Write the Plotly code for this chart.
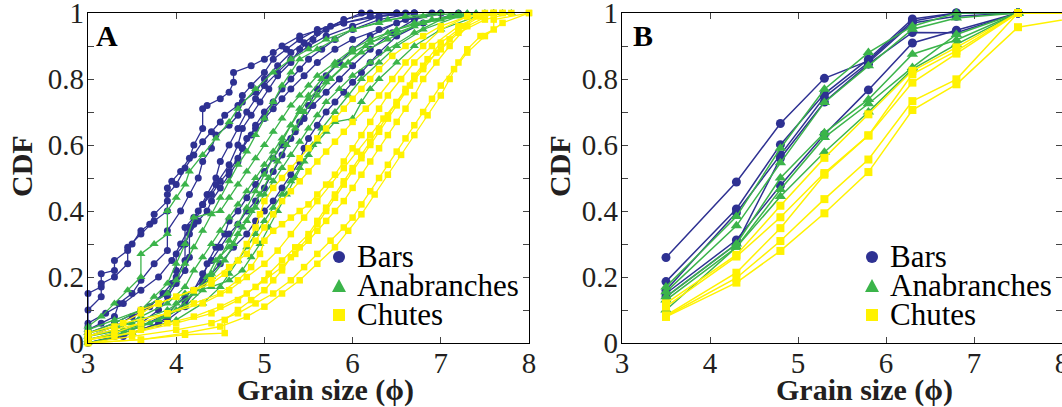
import plotly.graph_objects as go

# ---------------- DATA ----------------
# Panel A: individual sample CDFs, each curve given as (phi, cdf) pairs
BARS_A = [
    [(3.0,.05),(3.0,.15),(3.15,.17),(3.15,.21),(3.3,.22),(3.3,.25),(3.45,.28),(3.5,.30),(3.6,.34),(3.7,.36),
     (3.75,.39),(3.9,.43),(3.9,.47),(3.95,.49),(4.05,.52),(4.15,.56),(4.2,.60),(4.3,.65),(4.3,.71),(4.35,.72),
     (4.5,.74),(4.6,.76),(4.65,.79),(4.65,.82),(4.85,.84),(5.0,.86),(5.1,.88),(5.2,.90),(5.4,.93),(5.75,.96),
     (6.1,1.0),(6.5,1.0)],
    [(3.0,.10),(3.15,.14),(3.15,.18),(3.3,.20),(3.45,.24),(3.45,.29),(3.6,.33),(3.75,.37),(3.9,.40),(3.9,.45),
     (4.0,.48),(4.1,.53),(4.2,.57),(4.3,.61),(4.4,.64),(4.5,.67),(4.55,.69),(4.7,.72),(4.75,.75),(4.85,.78),
     (5.0,.82),(5.1,.86),(5.25,.89),(5.4,.92),(5.6,.95),(5.9,.97),(6.2,.99),(6.6,1.0)],
    [(3.0,.04),(3.15,.06),(3.3,.08),(3.35,.12),(3.5,.15),(3.6,.19),(3.75,.24),(3.9,.28),(3.9,.34),(4.05,.40),
     (4.15,.45),(4.25,.50),(4.3,.55),(4.4,.59),(4.45,.63),(4.6,.66),(4.7,.69),(4.75,.73),(4.9,.76),(5.0,.80),
     (5.15,.84),(5.3,.88),(5.45,.91),(5.6,.94),(5.9,.97),(6.3,.99),(6.7,1.0)],
    [(3.0,.06),(3.2,.09),(3.4,.12),(3.6,.16),(3.8,.20),(3.95,.25),(4.05,.30),(4.15,.35),(4.25,.40),(4.35,.45),
     (4.45,.50),(4.5,.55),(4.6,.60),(4.7,.65),(4.8,.70),(4.9,.74),(5.0,.78),(5.15,.82),(5.3,.86),(5.5,.90),
     (5.7,.93),(6.0,.96),(6.3,.99),(6.7,1.0)],
    [(3.0,.02),(3.3,.05),(3.5,.08),(3.7,.11),(3.85,.15),(3.95,.18),(4.0,.22),(4.0,.27),(4.1,.30),(4.1,.35),
     (4.2,.38),(4.3,.42),(4.4,.45),(4.5,.49),(4.6,.52),(4.7,.56),(4.75,.59),(4.85,.63),(4.9,.66),(5.0,.70),
     (5.1,.73),(5.2,.77),(5.3,.80),(5.4,.83),(5.5,.86),(5.65,.89),(5.8,.92),(6.0,.95),(6.3,.98),(6.7,1.0)],
    [(3.0,.01),(3.3,.03),(3.6,.06),(3.8,.10),(3.9,.14),(4.0,.18),(4.1,.22),(4.15,.26),(4.15,.33),(4.25,.37),
     (4.35,.40),(4.4,.43),(4.5,.47),(4.6,.51),(4.7,.55),(4.75,.59),(4.8,.62),(4.9,.65),(5.0,.68),(5.1,.71),
     (5.2,.74),(5.3,.77),(5.45,.81),(5.6,.85),(5.8,.89),(6.0,.92),(6.3,.95),(6.6,.98),(7.0,1.0)],
    [(3.0,.0),(3.3,.02),(3.6,.05),(3.9,.09),(4.1,.14),(4.3,.19),(4.35,.24),(4.45,.29),(4.55,.33),(4.6,.37),
     (4.7,.40),(4.8,.44),(4.9,.48),(5.0,.52),(5.1,.56),(5.2,.60),(5.35,.64),(5.45,.68),(5.55,.72),(5.7,.76),
     (5.85,.80),(6.0,.84),(6.2,.89),(6.45,.94),(6.7,.98),(7.0,1.0)],
    [(3.0,.0),(3.5,.03),(3.9,.07),(4.1,.11),(4.2,.16),(4.3,.21),(4.4,.25),(4.5,.29),(4.6,.33),(4.7,.36),
     (4.8,.40),(4.9,.43),(5.0,.47),(5.1,.52),(5.2,.57),(5.3,.62),(5.4,.67),(5.5,.72),(5.6,.77),(5.7,.81),
     (5.85,.85),(6.0,.89),(6.2,.93),(6.5,.97),(6.9,1.0)],
    [(3.0,.0),(3.4,.02),(3.8,.06),(4.1,.12),(4.3,.18),(4.5,.24),(4.65,.29),(4.8,.33),(4.9,.37),(5.0,.40),
     (5.1,.43),(5.2,.47),(5.3,.51),(5.4,.55),(5.45,.59),(5.5,.62),(5.6,.66),(5.7,.70),(5.8,.73),(5.9,.76),
     (6.0,.79),(6.1,.82),(6.2,.85),(6.3,.88),(6.5,.93),(6.8,.97),(7.2,1.0)],
    [(3.0,.03),(3.3,.06),(3.6,.10),(3.9,.15),(4.0,.20),(4.1,.25),(4.1,.30),(4.2,.36),(4.3,.42),(4.45,.48),
     (4.6,.54),(4.7,.60),(4.75,.65),(4.85,.69),(4.95,.73),(5.05,.77),(5.15,.81),(5.3,.85),(5.4,.89),(5.55,.92),
     (5.7,.95),(5.9,.98),(6.2,1.0),(6.5,1.0)],
]
ANABRANCHES_A = [
    [(3.0,.05),(3.15,.08),(3.3,.12),(3.45,.16),(3.6,.20),(3.6,.27),(3.75,.30),(3.9,.33),(3.9,.40),(4.0,.44),
     (4.1,.48),(4.15,.52),(4.3,.57),(4.45,.62),(4.6,.67),(4.7,.71),(4.9,.77),(5.1,.82),(5.3,.86),(5.5,.89),
     (5.7,.92),(6.0,.95),(6.4,.98),(6.8,.99),(7.2,1.0)],
    [(3.0,.03),(3.3,.06),(3.6,.10),(3.75,.14),(3.9,.18),(4.0,.24),(4.1,.30),(4.2,.38),(4.5,.40),(4.6,.44),
     (4.7,.48),(4.8,.52),(4.9,.56),(5.0,.60),(5.1,.64),(5.2,.68),(5.3,.72),(5.4,.75),(5.5,.78),(5.6,.81),
     (5.8,.85),(6.0,.89),(6.2,.92),(6.5,.95),(6.9,.98),(7.3,1.0)],
    [(3.0,.02),(3.3,.04),(3.6,.08),(3.9,.12),(4.1,.17),(4.2,.22),(4.3,.26),(4.4,.30),(4.5,.34),(4.6,.38),
     (4.7,.42),(4.8,.46),(4.9,.50),(5.0,.54),(5.1,.58),(5.2,.62),(5.3,.66),(5.4,.70),(5.5,.74),(5.7,.79),
     (5.9,.84),(6.1,.88),(6.4,.92),(6.7,.96),(7.1,.99),(7.5,1.0)],
    [(3.0,.01),(3.4,.03),(3.7,.06),(4.0,.10),(4.2,.15),(4.35,.20),(4.45,.25),(4.6,.29),(4.7,.33),(4.8,.37),
     (4.9,.41),(5.0,.45),(5.1,.49),(5.2,.53),(5.3,.57),(5.4,.61),(5.5,.65),(5.6,.69),(5.7,.73),(5.85,.77),
     (6.0,.81),(6.2,.85),(6.4,.89),(6.7,.94),(7.0,.98),(7.4,1.0)],
    [(3.0,.0),(3.5,.03),(4.0,.07),(4.3,.12),(4.5,.17),(4.6,.21),(4.7,.25),(4.8,.29),(4.9,.33),(5.0,.37),
     (5.1,.41),(5.2,.45),(5.3,.49),(5.4,.53),(5.5,.57),(5.6,.61),(5.7,.64),(5.8,.67),(6.0,.68),(6.1,.73),
     (6.2,.77),(6.3,.80),(6.5,.85),(6.7,.90),(7.0,.95),(7.4,.99),(7.8,1.0)],
    [(3.0,.04),(3.3,.07),(3.6,.10),(3.9,.15),(4.0,.19),(4.1,.24),(4.2,.29),(4.3,.34),(4.4,.39),(4.5,.44),
     (4.6,.49),(4.7,.54),(4.8,.58),(4.9,.63),(5.0,.68),(5.1,.73),(5.2,.78),(5.3,.82),(5.4,.86),(5.6,.89),
     (5.8,.92),(6.0,.95),(6.3,.97),(6.6,.99),(7.0,1.0)],
    [(3.0,.01),(3.3,.03),(3.6,.05),(3.9,.08),(4.0,.12),(4.1,.15),(4.4,.17),(4.6,.19),(4.75,.22),(4.85,.26),
     (4.95,.30),(5.05,.35),(5.15,.40),(5.25,.45),(5.35,.50),(5.45,.55),(5.55,.60),(5.65,.65),(5.8,.70),(5.95,.75),
     (6.1,.80),(6.3,.85),(6.5,.90),(6.8,.95),(7.2,.99),(7.6,1.0)],
    [(3.0,.02),(3.4,.04),(3.8,.07),(4.1,.11),(4.3,.16),(4.4,.21),(4.5,.26),(4.6,.31),(4.7,.36),(4.8,.41),
     (4.9,.46),(5.0,.51),(5.1,.56),(5.2,.61),(5.3,.66),(5.4,.71),(5.5,.75),(5.65,.80),(5.8,.84),(6.0,.88),
     (6.2,.91),(6.5,.94),(6.8,.97),(7.2,.99),(7.7,1.0)],
    [(3.0,.03),(3.5,.06),(3.9,.10),(4.2,.15),(4.4,.20),(4.55,.25),(4.65,.30),(4.75,.35),(4.85,.40),(4.95,.45),
     (5.05,.50),(5.15,.55),(5.25,.60),(5.35,.65),(5.45,.70),(5.6,.75),(5.75,.80),(5.95,.85),(6.15,.90),(6.4,.94),
     (6.7,.97),(7.1,.99),(7.6,1.0)],
]
CHUTES_A = [
    [(3.0,.02),(3.3,.05),(3.6,.09),(3.8,.12),(4.0,.14),(4.2,.16),(4.4,.18),(4.55,.21),(4.7,.25),(4.8,.30),
     (4.9,.35),(4.95,.39),(5.0,.43),(5.1,.47),(5.2,.50),(5.3,.53),(5.4,.56),(5.5,.59),(5.6,.62),(5.7,.65),
     (5.8,.68),(5.9,.71),(6.0,.74),(6.1,.77),(6.2,.80),(6.3,.83),(6.45,.87),(6.6,.90),(6.8,.93),(7.0,.96),
     (7.3,.99),(7.6,1.0)],
    [(3.0,.01),(3.3,.03),(3.6,.06),(3.9,.09),(4.2,.12),(4.5,.15),(4.7,.19),(4.85,.23),(4.95,.27),(5.0,.31),
     (5.1,.34),(5.2,.36),(5.3,.38),(5.4,.40),(5.5,.42),(5.6,.45),(5.7,.48),(5.8,.51),(5.9,.55),(6.0,.59),
     (6.1,.63),(6.2,.67),(6.3,.71),(6.4,.75),(6.55,.80),(6.7,.85),(6.9,.90),(7.2,.96),(7.5,1.0)],
    [(3.0,.0),(3.6,.01),(4.1,.025),(4.55,.03),(4.55,.07),(4.7,.10),(4.85,.13),(5.0,.16),(5.1,.19),(5.2,.22),
     (5.3,.26),(5.4,.29),(5.5,.32),(5.6,.36),(5.7,.40),(5.8,.44),(5.9,.48),(6.0,.52),(6.1,.56),(6.2,.60),
     (6.3,.64),(6.4,.68),(6.5,.72),(6.6,.76),(6.7,.80),(6.8,.84),(7.0,.89),(7.2,.94),(7.5,.98),(7.8,1.0)],
    [(3.0,.01),(3.3,.02),(3.6,.04),(3.9,.06),(4.2,.08),(4.5,.11),(4.8,.15),(5.0,.19),(5.2,.23),(5.35,.27),
     (5.5,.31),(5.6,.34),(5.7,.37),(5.8,.40),(5.9,.43),(6.0,.47),(6.1,.51),(6.2,.55),(6.3,.59),(6.4,.63),
     (6.5,.67),(6.6,.71),(6.7,.75),(6.8,.80),(6.95,.85),(7.1,.90),(7.3,.96),(7.6,1.0)],
    [(3.0,.0),(3.5,.02),(4.0,.04),(4.4,.06),(4.7,.09),(4.9,.12),(5.1,.15),(5.3,.19),(5.45,.23),(5.6,.27),
     (5.75,.31),(5.9,.35),(6.0,.38),(6.1,.42),(6.2,.46),(6.3,.50),(6.4,.54),(6.5,.58),(6.6,.62),(6.7,.66),
     (6.8,.70),(6.9,.74),(7.0,.78),(7.15,.83),(7.3,.88),(7.5,.93),(7.7,.97),(8.0,1.0)],
    [(3.0,.02),(3.3,.04),(3.6,.06),(3.6,.10),(3.8,.12),(4.0,.14),(4.2,.16),(4.4,.19),(4.6,.23),(4.8,.27),
     (4.9,.31),(5.0,.35),(5.1,.39),(5.2,.43),(5.3,.46),(5.4,.49),(5.5,.52),(5.6,.55),(5.7,.58),(5.8,.61),
     (5.9,.64),(6.0,.67),(6.15,.71),(6.3,.75),(6.45,.80),(6.6,.85),(6.8,.90),(7.0,.95),(7.3,.99),(7.6,1.0)],
    [(3.0,.0),(3.6,.01),(4.1,.03),(4.5,.05),(4.8,.08),(5.0,.11),(5.2,.15),(5.4,.19),(5.6,.24),(5.8,.29),
     (5.95,.34),(6.1,.39),(6.25,.45),(6.4,.51),(6.55,.57),(6.7,.63),(6.85,.69),(7.0,.75),(7.1,.80),(7.2,.85),
     (7.3,.89),(7.45,.93),(7.6,.95),(7.6,.98),(8.0,1.0)],
    [(3.0,.03),(3.4,.06),(3.9,.09),(4.3,.12),(4.6,.16),(4.8,.20),(5.0,.24),(5.15,.28),(5.3,.33),(5.45,.38),
     (5.6,.43),(5.75,.48),(5.9,.53),(6.05,.58),(6.2,.63),(6.35,.68),(6.5,.73),(6.65,.78),(6.8,.83),(6.95,.88),
     (7.1,.92),(7.25,.96),(7.4,.99),(7.7,1.0)],
    [(3.0,.01),(3.5,.03),(4.0,.06),(4.4,.09),(4.7,.13),(4.9,.17),(5.05,.21),(5.2,.25),(5.35,.29),(5.5,.33),
     (5.6,.37),(5.7,.41),(5.8,.45),(5.9,.49),(6.0,.53),(6.1,.57),(6.2,.61),(6.3,.65),(6.4,.69),(6.5,.73),
     (6.6,.77),(6.7,.81),(6.85,.86),(7.0,.91),(7.2,.95),(7.45,.99),(7.7,1.0)],
]

# Panel B: binned CDFs at common sieve sizes
PHI_B = [3.5, 4.3, 4.8, 5.3, 5.8, 6.3, 6.8, 7.5, 8.5]
BARS_B = [
    [0.259, 0.488, 0.665, 0.802, 0.855, 0.975, 1.000, 1.0, 1.0],
    [0.186, 0.406, 0.601, 0.755, 0.860, 0.982, 1.000, 1.0, 1.0],
    [0.160, 0.395, 0.570, 0.745, 0.850, 0.970, 0.990, 1.0, 1.0],
    [0.150, 0.312, 0.477, 0.632, 0.767, 0.909, 0.948, 1.0, 1.0],
    [0.140, 0.300, 0.560, 0.730, 0.845, 0.941, 0.940, 1.0, 1.0],
]
ANABRANCHES_B = [
    [0.170, 0.383, 0.590, 0.769, 0.880, 0.960, 1.000, 1.0, 1.0],
    [0.155, 0.355, 0.546, 0.729, 0.840, 0.951, 0.985, 1.0, 1.0],
    [0.140, 0.300, 0.500, 0.637, 0.738, 0.875, 0.918, 1.0, 1.0],
    [0.130, 0.290, 0.465, 0.623, 0.725, 0.835, 0.935, 1.0, 1.0],
    [0.100, 0.290, 0.444, 0.578, 0.700, 0.830, 0.905, 1.0, 1.0],
]
CHUTES_B = [
    [0.120, 0.267, 0.416, 0.561, 0.693, 0.825, 0.896, 1.000, 1.0],
    [0.110, 0.262, 0.381, 0.515, 0.629, 0.815, 0.885, 1.000, 1.0],
    [0.084, 0.213, 0.348, 0.510, 0.629, 0.789, 0.877, 1.000, 1.0],
    [0.081, 0.197, 0.309, 0.436, 0.556, 0.733, 0.799, 1.000, 1.0],
    [0.079, 0.183, 0.279, 0.393, 0.518, 0.706, 0.784, 0.957, 1.0],
]

X_TICKS = [3, 4, 5, 6, 7, 8]
Y_TICKS = [0, 0.1, 0.2, 0.3, 0.4, 0.5, 0.6, 0.7, 0.8, 0.9, 1.0]
Y_TICKTEXT = ["0", "", "0.2", "", "0.4", "", "0.6", "", "0.8", "", "1"]
CLASSES = ["Bars", "Anabranches", "Chutes"]

# ---------------- STYLE ----------------
W, H = 1062, 407
BLUE, GREEN, YELLOW = "#2E3192", "#3BB44A", "#FFF200"
COLORS = [BLUE, GREEN, YELLOW]
SYMBOLS = ["circle", "triangle-up", "square"]
FONT = "Liberation Serif, Times New Roman, Times, serif"
TXT = "#231F20"


def px(x):
    return x / W


def py(y):
    return 1 - y / H


fig = go.Figure()

size_a = [7, 8, 6.5]
for k, curves in enumerate([BARS_A, ANABRANCHES_A, CHUTES_A]):
    for c in curves:
        fig.add_trace(go.Scatter(
            x=[p[0] for p in c], y=[p[1] for p in c], mode="lines+markers",
            line=dict(color=COLORS[k], width=1.3),
            marker=dict(symbol=SYMBOLS[k], size=size_a[k], color=COLORS[k]),
            cliponaxis=False, showlegend=False, hoverinfo="skip", xaxis="x", yaxis="y"))

size_b = [9, 10, 8]
for k, curves in enumerate([BARS_B, ANABRANCHES_B, CHUTES_B]):
    for c in curves:
        fig.add_trace(go.Scatter(
            x=PHI_B, y=c, mode="lines+markers",
            line=dict(color=COLORS[k], width=1.5),
            marker=dict(symbol=SYMBOLS[k], size=size_b[k], color=COLORS[k]),
            cliponaxis=False, showlegend=False, hoverinfo="skip", xaxis="x2", yaxis="y2"))

common_x = dict(range=[3, 8], tickvals=X_TICKS, ticks="inside", ticklen=6, tickwidth=1,
                showline=True, linecolor="black", linewidth=1.3, mirror="ticks",
                showgrid=False, zeroline=False, automargin=False,
                ticklabeloverflow="allow", ticklabelstandoff=-6,
                tickfont=dict(family=FONT, size=29, color=TXT))
common_y = dict(range=[0, 1], tickvals=Y_TICKS, ticktext=Y_TICKTEXT, ticks="inside",
                ticklen=6, tickwidth=1, showline=True, linecolor="black", linewidth=1.3,
                mirror="ticks", showgrid=False, zeroline=False, automargin=False,
                ticklabeloverflow="allow", ticklabelstandoff=-3,
                tickfont=dict(family=FONT, size=29, color=TXT),
                domain=[py(343), py(13)])

fig.update_layout(
    width=W, height=H, margin=dict(l=0, r=0, t=0, b=0, autoexpand=False),
    paper_bgcolor="white", plot_bgcolor="white", showlegend=False,
    xaxis=dict(common_x, domain=[px(88), px(529)], anchor="y"),
    yaxis=dict(common_y, anchor="x"),
    xaxis2=dict(common_x, domain=[px(622), 1.0], anchor="y2"),
    yaxis2=dict(common_y, anchor="x2"),
)

ann = []
shapes = []
for (title_x, cdf_x, lab, lab_x) in [(325, 22, "A", 107), (864, 560, "B", 643)]:
    ann.append(dict(text="<b>Grain size (ϕ)</b>", x=px(title_x), y=py(390), xref="paper", yref="paper",
                    showarrow=False, xanchor="center", yanchor="middle",
                    font=dict(family=FONT, size=30, color=TXT)))
    ann.append(dict(text="<b>CDF</b>", x=px(cdf_x), y=py(166), xref="paper", yref="paper",
                    showarrow=False, xanchor="center", yanchor="middle", textangle=-90,
                    font=dict(family=FONT, size=30, color=TXT)))
    ann.append(dict(text="<b>%s</b>" % lab, x=px(lab_x), y=py(36), xref="paper", yref="paper",
                    showarrow=False, xanchor="center", yanchor="middle",
                    font=dict(family=FONT, size=30, color="black")))

# legends (symbol glyphs + labels)
for mx in [339, 872]:
    rows = [257, 286, 315]
    for k, name in enumerate(CLASSES):
        ann.append(dict(text=name, x=px(mx + 16), y=py(rows[k] - 1), xref="paper", yref="paper",
                        showarrow=False, xanchor="left", yanchor="middle",
                        font=dict(family=FONT, size=31, color="black")))
    cy = rows[0]
    shapes.append(dict(type="circle", xref="paper", yref="paper", x0=px(mx - 6), x1=px(mx + 6),
                       y0=py(cy + 6), y1=py(cy - 6), fillcolor=BLUE, line=dict(width=0)))
    cy = rows[1]
    shapes.append(dict(type="path", xref="paper", yref="paper",
                       path="M %f,%f L %f,%f L %f,%f Z" % (px(mx - 7), py(cy + 6), px(mx + 7), py(cy + 6),
                                                          px(mx), py(cy - 7)),
                       fillcolor=GREEN, line=dict(width=0)))
    cy = rows[2]
    shapes.append(dict(type="rect", xref="paper", yref="paper", x0=px(mx - 6), x1=px(mx + 6),
                       y0=py(cy + 6), y1=py(cy - 6), fillcolor=YELLOW, line=dict(width=0)))

fig.update_layout(annotations=ann, shapes=shapes, hovermode=False)
fig.write_html("out.html", config={"displayModeBar": False, "staticPlot": True},
               post_script="document.body.style.margin='0';document.body.style.overflow='hidden';")
